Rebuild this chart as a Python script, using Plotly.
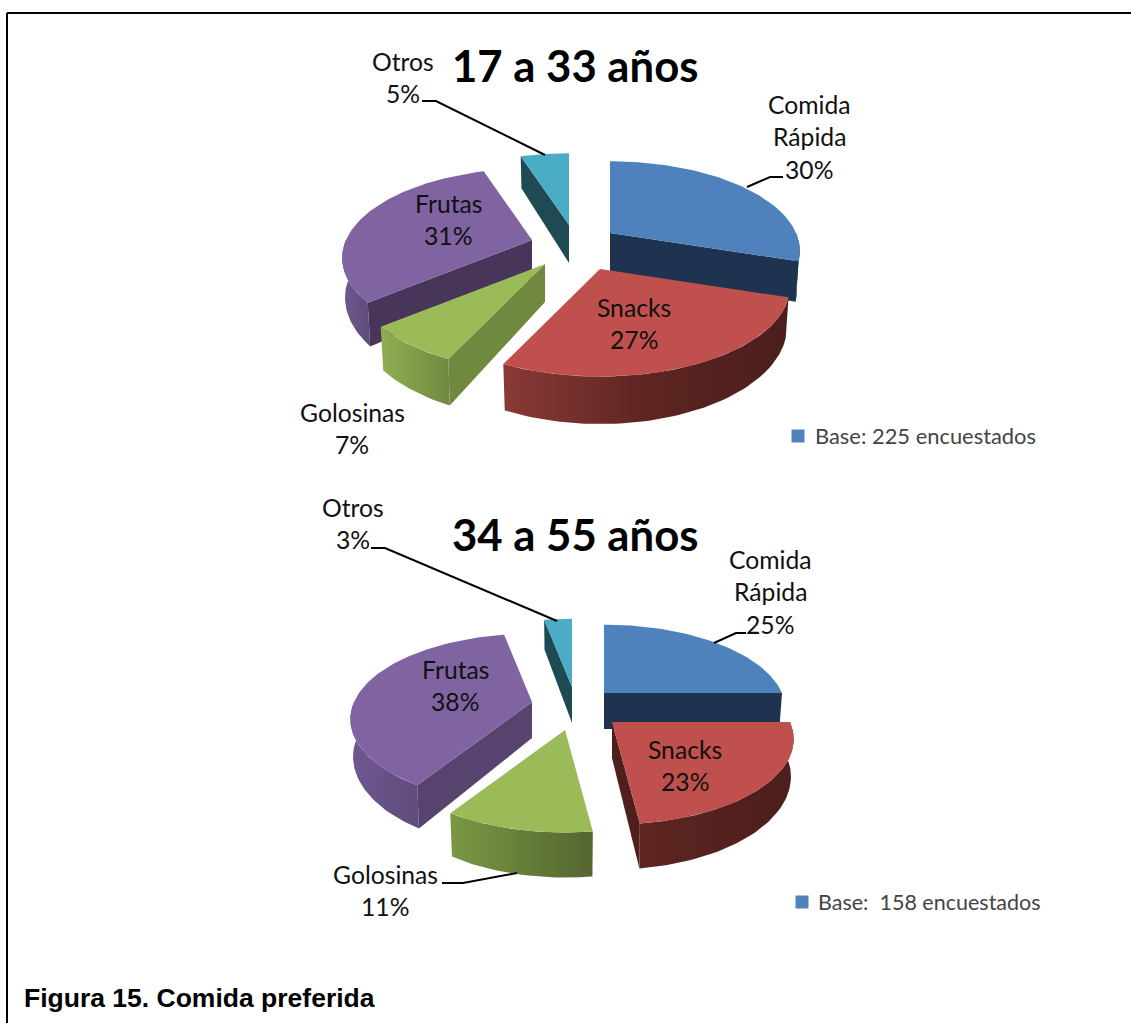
import math
import plotly.graph_objects as go

# ---- data ----
categories = ["Comida Rápida", "Snacks", "Golosinas", "Frutas", "Otros"]
values_17_33 = [30, 27, 7, 31, 5]
values_34_55 = [25, 23, 11, 38, 3]
title_17_33 = "17 a 33 años"
title_34_55 = "34 a 55 años"
legend_17_33 = "Base: 225 encuestados"
legend_34_55 = "Base:\u00a0 158 encuestados"
caption = "Figura 15. Comida preferida"

# ---- styling / layout ----
W, H = 1131, 1023
TOP = ["#4f81bd", "#c0504d", "#9bbb59", "#8064a2", "#4bacc6"]
LEGEND_BLUE = "#4f81bd"
LABEL_FONT = "Lato, 'Open Sans', sans-serif"
DRAW_ORDER = [4, 0, 3, 2, 1]
BOTTOM_SHRINK = 0.985

PIES = [
    dict(values=values_17_33, rx=186, ry=86, p=0.2, depth=38,
         apex=[(610, 233), (600, 269), (545, 264), (532, 240), (569, 225)],
         cut=["#1e3350", "#4a1e1c", "#71893f", "#47365a", "#1f4a54"],
         wall=[["#1e3350", "#1e3350"],
               ["#8a3a36", "#5e2522", "#4a1e1c"],
               ["#8fae52", "#71893f"],
               ["#6f5890", "#5f4b7d"],
               ["#1f4a54", "#1f4a54"]]),
    dict(values=values_34_55, rx=178, ry=82, p=0.2, depth=36,
         apex=[(604, 693), (612, 722), (565, 730), (532, 702), (572, 687)],
         cut=["#1e3350", "#4e1f1d", "#5a6d33", "#56436e", "#1f4a54"],
         wall=[["#1e3350", "#1e3350"],
               ["#5e2522", "#4c1e1c"],
               ["#7a9844", "#54652f"],
               ["#6f5890", "#5f4b7d"],
               ["#1f4a54", "#1f4a54"]]),
]

# label lines: (x centre, y of first line) per slice, per pie
LABEL_POS = [
    [(809, 104), (634, 307), (352, 412), (448, 203), (403, 61)],
    [(770, 559), (685, 749), (385, 874), (455, 669), (353, 507)],
]
LINE_STEP = 32.5
LEADERS = [
    [[(422, 101), (436, 101), (545, 155)], [(747, 187), (770, 177), (783, 177)]],
    [[(371, 548), (385, 548), (557, 621)], [(714, 643), (736, 633), (746, 633)],
     [(442, 883), (463, 883), (517, 873)]],
]

fig = go.Figure()


def rim(pie, apex, deg, z=0.0):
    t = math.radians(deg)
    f = 1.0 / (1.0 + pie["p"] * math.cos(t))
    k = BOTTOM_SHRINK if z else 1.0
    return (apex[0] + pie["rx"] * math.sin(t) * f * k,
            apex[1] - pie["ry"] * math.cos(t) * f + z * f)


def arc(pie, apex, a0, a1, z=0.0):
    n = max(2, int(abs(a1 - a0) / 1.5) + 1)
    return [rim(pie, apex, a0 + (a1 - a0) * i / (n - 1), z) for i in range(n)]


def poly(points, color=None, gradient=None):
    xs = [q[0] for q in points] + [points[0][0]]
    ys = [q[1] for q in points] + [points[0][1]]
    kw = dict(x=xs, y=ys, mode="lines", fill="toself", hoverinfo="skip",
              line=dict(width=0), showlegend=False)
    if gradient:
        step = 1 / (len(gradient) - 1)
        kw["fillgradient"] = dict(type="horizontal",
                                  colorscale=[[i * step, c] for i, c in enumerate(gradient)])
    else:
        kw["fillcolor"] = color
    fig.add_trace(go.Scatter(**kw))


for pie in PIES:
    total = sum(pie["values"])
    edges = [0.0]
    for v in pie["values"]:
        edges.append(edges[-1] + 360.0 * v / total)
    for i in DRAW_ORDER:
        a0, a1 = edges[i], edges[i + 1]
        apex = pie["apex"][i]
        d = pie["depth"]
        bottom_apex = (apex[0], apex[1] + d)
        # cut faces turned towards the viewer
        if math.sin(math.radians(a0)) < -1e-6:
            poly([apex, rim(pie, apex, a0), rim(pie, apex, a0, d), bottom_apex], color=pie["cut"][i])
        if math.sin(math.radians(a1)) > 1e-6:
            poly([apex, rim(pie, apex, a1), rim(pie, apex, a1, d), bottom_apex], color=pie["cut"][i])
        # outer wall, only the front half of the rim is visible
        w0, w1 = max(a0, 90.0), min(a1, 270.0)
        if w1 > w0:
            poly(arc(pie, apex, w0, w1) + arc(pie, apex, w1, w0, d), gradient=pie["wall"][i])
        # top face
        poly([apex] + arc(pie, apex, a0, a1), color=TOP[i])

for group in LEADERS:
    for line in group:
        fig.add_trace(go.Scatter(x=[q[0] for q in line], y=[q[1] for q in line], mode="lines",
                                 line=dict(color="black", width=2), hoverinfo="skip", showlegend=False))

# legend squares
fig.add_trace(go.Scatter(x=[798, 802], y=[436, 902], mode="markers", hoverinfo="skip", showlegend=False,
                         marker=dict(symbol="square", size=13, color=LEGEND_BLUE)))


def text(x, y, s, size, family=LABEL_FONT, color="#111111", anchor="center"):
    fig.add_annotation(x=x, y=y, text=s, showarrow=False, xanchor=anchor, yanchor="middle",
                       font=dict(family=family, size=size, color=color))


for pie, positions in zip(PIES, LABEL_POS):
    for name, v, (x, y) in zip(categories, pie["values"], positions):
        lines = name.split(" ") + [f"{v}%"]
        for k, s in enumerate(lines):
            text(x, y + k * LINE_STEP, s, 24.7)

text(575, 65, f"<b>{title_17_33}</b>", 43.7, color="#000000")
text(575, 534, f"<b>{title_34_55}</b>", 43.7, color="#000000")
text(813, 435.5, legend_17_33, 21.9, color="#444444", anchor="left")
text(816, 901.5, legend_34_55, 21.5, color="#444444", anchor="left")
text(22, 998, f"<b>{caption}</b>", 26.5, family="'Liberation Sans', Arial, sans-serif",
     color="#000000", anchor="left")

fig.update_layout(
    width=W, height=H, margin=dict(l=0, r=0, t=0, b=0),
    paper_bgcolor="white", plot_bgcolor="white", showlegend=False,
    xaxis=dict(range=[0, W], visible=False, fixedrange=True),
    yaxis=dict(range=[H, 0], visible=False, fixedrange=True),
    shapes=[
        dict(type="line", x0=7, x1=W, y0=13, y1=13, line=dict(color="black", width=2)),
        dict(type="line", x0=7, x1=7, y0=13, y1=H, line=dict(color="black", width=2)),
    ],
)

fig.write_html("out.html", config=dict(displayModeBar=False, responsive=False),
               post_script="document.body.style.margin='0';document.body.style.overflow='hidden';")
